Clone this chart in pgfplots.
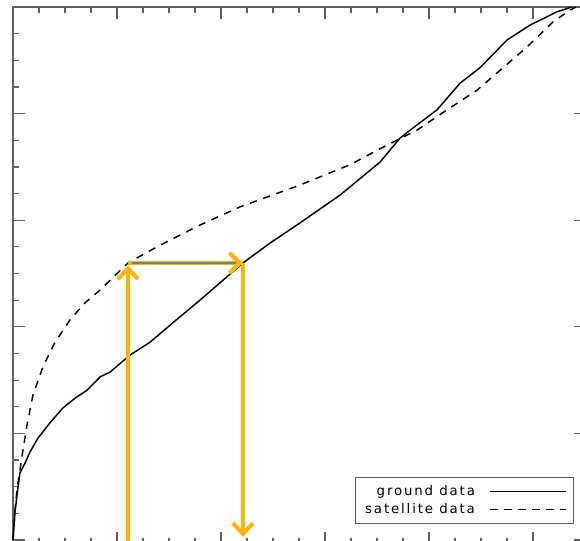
\documentclass[border=0pt]{standalone}
\usepackage{fontspec}
\setmainfont{DejaVu Sans}[LetterSpace=14]
\usepackage{pgfplots}
\pgfplotsset{compat=1.18}
\usetikzlibrary{arrows.meta}
\definecolor{arrowor}{RGB}{255,180,0}
\definecolor{axgray}{RGB}{95,95,95}
\definecolor{slate}{RGB}{110,128,145}
\begin{document}
\begin{tikzpicture}
\useasboundingbox (-9.75pt,0pt) rectangle (425.25pt,405pt);
\begin{axis}[
  at={(0pt,-3.2pt)}, anchor=south west,
  scale only axis, width=430pt, height=402.95pt,
  xmin=0, xmax=5.513, ymin=-0.008, ymax=1,
  xtick={0,1,2,3,4,5}, ytick={0,0.2,0.4,0.6,0.8,1},
  minor x tick num=3, minor y tick num=3,
  xticklabels={}, yticklabels={},
  tick align=inside,
  major tick length=9pt, minor tick length=4.5pt,
  tick style={axgray, line width=0.9pt},
  axis line style={axgray, line width=1.2pt},
  clip=false,
  legend plot pos=right, legend cell align=right,
  legend image code/.code={\path (0pt,0pt); \draw[#1, line width=0.9pt] (9pt,0pt) -- (66pt,0pt);},
  legend style={at={(0.9788,0.038)}, anchor=south east, draw=axgray, line width=0.9pt,
    font=\fontsize{10}{11}\selectfont, row sep=0pt, inner xsep=5pt, inner ysep=4pt},
]
\addplot[black, line width=1.1pt] coordinates {
(0,0) (0.019,0.051) (0.038,0.084) (0.067,0.126) (0.115,0.144) (0.163,0.165)
(0.240,0.191) (0.356,0.220) (0.481,0.248) (0.596,0.266) (0.712,0.281)
(0.837,0.306) (0.933,0.315) (1.125,0.347) (1.317,0.371) (1.558,0.411)
(1.798,0.450) (2.212,0.520) (2.471,0.557) (2.760,0.595) (3.144,0.647)
(3.529,0.709) (3.721,0.754) (3.846,0.773) (4.077,0.807) (4.298,0.857)
(4.490,0.886) (4.750,0.938) (4.971,0.966) (5.231,0.991) (5.375,1.0)};
\addlegendentry{ground data}
\addplot[black, line width=1.1pt, dash pattern=on 5.5pt off 5pt] coordinates {
(0,0) (0.019,0.056) (0.038,0.094) (0.067,0.131) (0.096,0.169) (0.135,0.216)
(0.192,0.272) (0.288,0.325) (0.404,0.371) (0.548,0.413) (0.692,0.445)
(0.837,0.469) (1.106,0.520) (1.413,0.553) (1.798,0.591) (2.183,0.625)
(2.760,0.666) (3.240,0.704) (3.558,0.737) (3.885,0.769) (4.173,0.807)
(4.462,0.844) (4.712,0.886) (4.942,0.925) (5.192,0.972) (5.356,0.994) (5.413,1.0)};
\addlegendentry{satellite data}
\addplot[forget plot, arrowor, line width=3pt, -{Straight Barb[length=8pt,width=15pt]}] coordinates {(1.106,-0.03) (1.106,0.515)};
\addplot[forget plot, arrowor, line width=3pt, -{Straight Barb[length=8pt,width=15pt]}] coordinates {(1.106,0.520) (2.212,0.520)};
\addplot[forget plot, arrowor, line width=3pt, -{Straight Barb[length=8pt,width=15pt]}] coordinates {(2.212,0.520) (2.212,0.006)};
\addplot[forget plot, slate, line width=1.5pt] coordinates {(1.14,0.520) (2.14,0.520)};
\end{axis}
\end{tikzpicture}
\end{document}
